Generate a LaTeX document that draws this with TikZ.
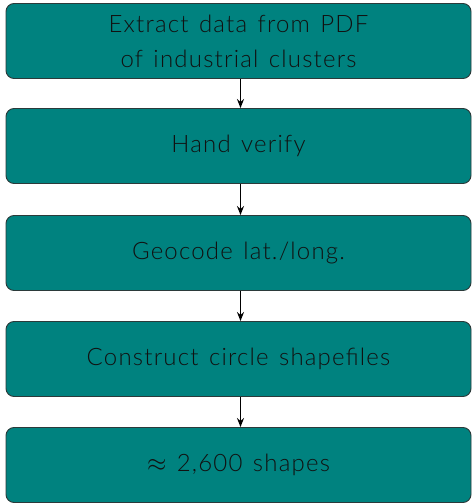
\documentclass[tikz,border=0pt]{standalone}
\usepackage{fontspec}
\setmainfont{Lato}[UprightFont=* Light, LetterSpace=5, WordSpace=1.35]
\usetikzlibrary{arrows.meta}
\definecolor{boxteal}{HTML}{00827F}
\definecolor{boxedge}{HTML}{2B3A3A}
\definecolor{txt}{HTML}{111111}
\tikzset{
  stepbox/.style={draw=boxedge, line width=0.9pt, fill=boxteal, rounded corners=8pt,
    minimum width=465pt, minimum height=75pt, align=center, text=txt,
    font=\fontsize{24}{35}\selectfont, inner sep=0pt},
  conn/.style={-{Stealth[length=9pt,width=7pt]}, line width=1.3pt, black}
}
\begin{document}
\begin{tikzpicture}[x=1pt,y=1pt]
\useasboundingbox (0,0) rectangle (472,504);
\node[stepbox] (a) at (238.5,463) {Extract data from PDF\\of industrial clusters};
\node[stepbox] (b) at (238.5,358) {Hand verify};
\node[stepbox] (c) at (238.5,251) {Geocode lat./long.};
\node[stepbox] (d) at (238.5,145) {Construct circle shapefiles};
\node[stepbox] (e) at (238.5,39) {$\approx$ 2,600 shapes};
\draw[conn] ([xshift=2pt]a.south) -- ([xshift=2pt]b.north);
\draw[conn] ([xshift=2pt]b.south) -- ([xshift=2pt]c.north);
\draw[conn] ([xshift=2pt]c.south) -- ([xshift=2pt]d.north);
\draw[conn] ([xshift=2pt]d.south) -- ([xshift=2pt]e.north);
\end{tikzpicture}
\end{document}
